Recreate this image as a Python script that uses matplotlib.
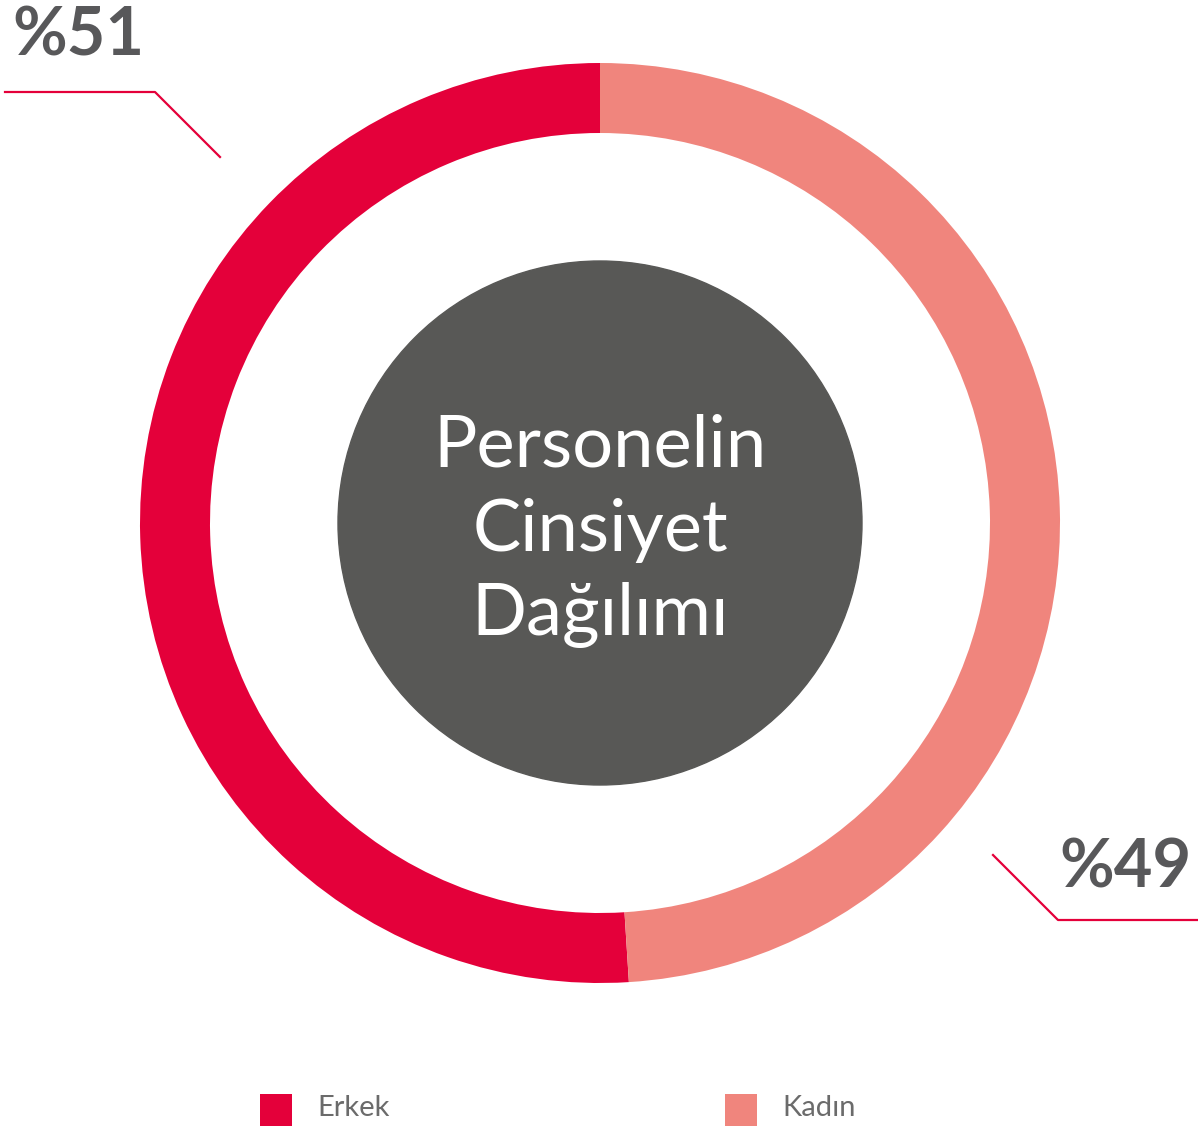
import matplotlib.pyplot as plt
from matplotlib.patches import Circle, Rectangle

# data
categories = ['Erkek', 'Kadın']
shares = [51, 49]
labels = ['%51', '%49']
colors = ['#E4003A', '#F0857D']
title_text = 'Personelin\nCinsiyet\nDağılımı'

W, H = 1198, 1126
fig = plt.figure(figsize=(W / 100, H / 100), dpi=100)
ax = fig.add_axes([0, 0, 1, 1])

cx, cy = 600, H - 523

# donut ring
ax.pie(shares, colors=colors, startangle=90, counterclock=True,
       radius=460, center=(cx, cy), frame=True,
       wedgeprops=dict(width=70, linewidth=0))
ax.set_xlim(0, W)
ax.set_ylim(0, H)
ax.set_aspect('equal')
ax.axis('off')

# gray center disc with title
ax.add_patch(Circle((cx, cy), 262, color='#585856', zorder=3))
ax.text(cx, cy - 8, title_text, ha='center', va='center', color='white',
        fontsize=52, family='Lato', fontweight='normal', linespacing=1.36, zorder=4)

gray = '#58585A'
red = colors[0]

# leader lines
ax.plot([5, 155, 220], [H - 92, H - 92, H - 157], color=red, lw=1.6)
ax.plot([993, 1058, 1198], [H - 855, H - 920, H - 920], color=red, lw=1.6)

# percentage labels
ax.text(78, H - 36, labels[0], ha='center', va='center', color=gray,
        fontsize=48, family='Lato', fontweight='bold')
ax.text(1125, H - 868, labels[1], ha='center', va='center', color=gray,
        fontsize=48, family='Lato', fontweight='bold')

# legend
for x0, name, c in zip([260, 725], categories, colors):
    ax.add_patch(Rectangle((x0, H - 1126), 32, 32, color=c, lw=0))
    ax.text(x0 + 57, H - 1108, name, ha='left', va='center', color='#6b6b6b',
            fontsize=21, family='Lato', fontweight='normal')

fig.savefig('out.png', dpi=100)
